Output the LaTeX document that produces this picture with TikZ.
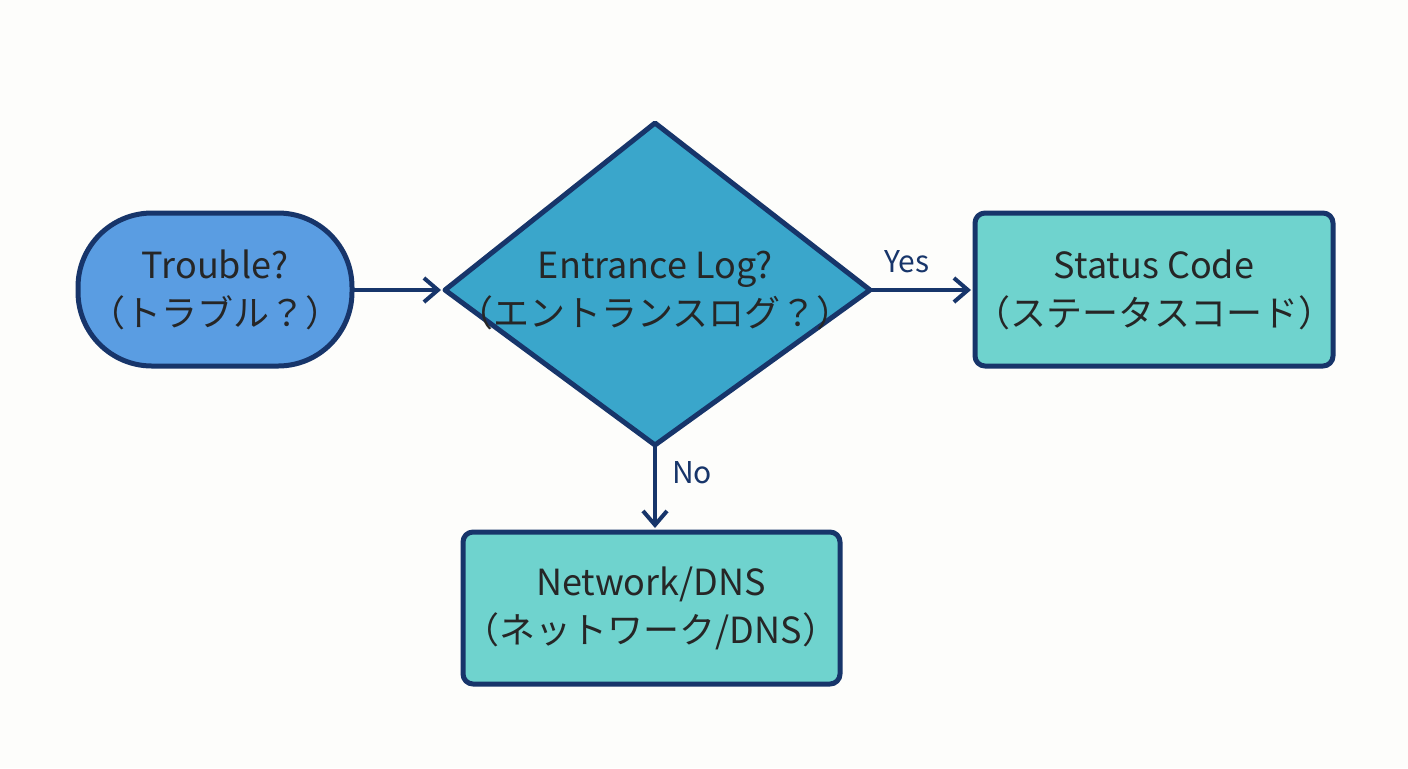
\documentclass[tikz,border=0pt]{standalone}
\usepackage{fontspec}
\setmainfont{Noto Sans CJK JP}
\usetikzlibrary{arrows.meta}
\definecolor{navy}{HTML}{17356A}
\definecolor{pillblue}{HTML}{5A9DE2}
\definecolor{diamblue}{HTML}{3AA6CB}
\definecolor{teal}{HTML}{6FD3CE}
\definecolor{bg}{HTML}{FDFDFB}
\tikzset{
  outl/.style={draw=navy, line width=2.5pt, line join=round},
  lbl/.style={font=\fontsize{18}{24}\selectfont, text=black!85, align=center},
  conn/.style={draw=navy, line width=2pt, -{Straight Barb[length=7pt,width=12pt,line width=2pt]}},
  edgelbl/.style={font=\fontsize{15}{18}\selectfont, text=navy}
}
\begin{document}
\begin{tikzpicture}[x=0.5pt,y=-0.5pt]
\fill[bg] (0,0) rectangle (1408,768);
\useasboundingbox (0,0) rectangle (1408,768);
% Trouble pill
\draw[outl, fill=pillblue, rounded corners=37pt] (78,213) rectangle (352,366);
\node[lbl] (trouble) at (215,290) {Trouble?\\（トラブル？）};
\coordinate (troubleE) at (352,290);
% Diamond
\coordinate (dT) at (655,123);
\coordinate (dL) at (445,290);
\coordinate (dR) at (870,290);
\coordinate (dB) at (655,445);
\draw[outl, fill=diamblue] (dT) -- (dR) -- (dB) -- (dL) -- cycle;
\node[lbl] (entrance) at (655,290) {Entrance Log?\\（エントランスログ？）};
% Status box
\draw[outl, fill=teal, rounded corners=5pt] (975,213) rectangle (1333,366);
\node[lbl] (status) at (1154,290) {Status Code\\（ステータスコード）};
\coordinate (statusW) at (975,290);
% Network box
\draw[outl, fill=teal, rounded corners=5pt] (463,532) rectangle (840,684);
\node[lbl] (network) at (651,608) {Network/DNS\\（ネットワーク/DNS）};
\coordinate (networkN) at (655,532);
% connectors
\draw[conn] (troubleE) -- ([xshift=-2pt]dL);
\draw[conn] (dR) -- ([xshift=-2pt]statusW);
\draw[conn] (dB) -- ([yshift=2pt]networkN);
\node[edgelbl] (yes) at (907,262) {Yes};
\node[edgelbl] (no) at (692,473) {No};
\end{tikzpicture}
\end{document}
